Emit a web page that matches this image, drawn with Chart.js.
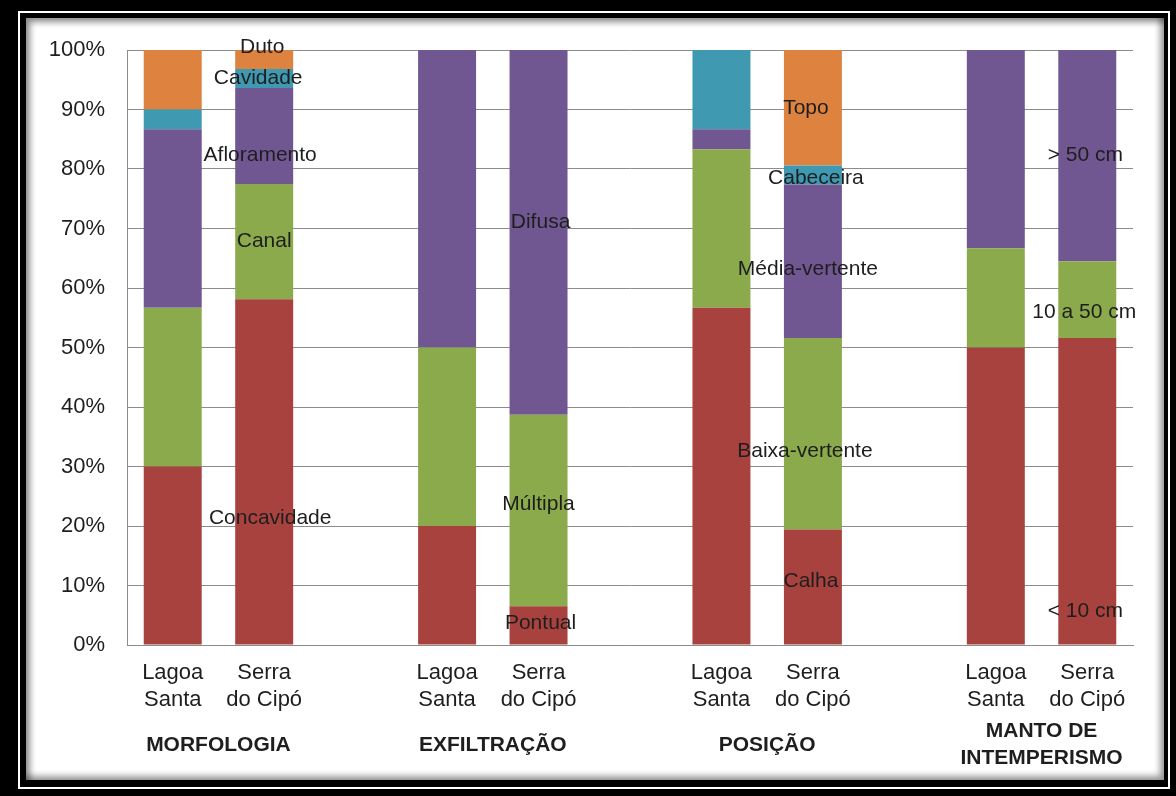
<!DOCTYPE html>
<html>
<head>
<meta charset="utf-8">
<script src="https://cdn.jsdelivr.net/npm/chart.js@4/dist/chart.umd.min.js"></script>
<style>
  html, body { margin: 0; padding: 0; }
  body { width: 1176px; height: 796px; background: #000; position: relative; overflow: hidden; }
  #outer {
    position: absolute; left: 18px; top: 11px; width: 1152px; height: 778px;
    box-sizing: border-box; border: 2px solid #fff;
  }
  #inner {
    position: absolute; left: 0; top: 0; right: 0; bottom: 0;
    border-style: solid; border-color: #000; border-width: 5px 4px 7px 6px;
    background: #fff;
    box-shadow: inset 4px 4px 6px rgba(0,0,0,0.45), inset -4px -4px 6px rgba(0,0,0,0.4);
  }
  #wrap { position: absolute; left: 0; top: 0; width: 1137px; height: 761px; }
</style>
</head>
<body>
<div id="outer"><div id="inner"><div id="wrap"><canvas id="chart"></canvas></div></div></div>
<script>
// Share of each class per site, in percent (bottom segment first)
const sites = [['Lagoa', 'Santa'], ['Serra', 'do Cipó']];
const groupTitles = ['MORFOLOGIA', 'EXFILTRAÇÃO', 'POSIÇÃO', ['MANTO DE', 'INTEMPERISMO']];

const morfologiaClasses = ['Concavidade', 'Canal', 'Afloramento', 'Cavidade', 'Duto'];
const morfologiaLagoa = [30.0, 26.7, 30.0, 3.3, 10.0];
const morfologiaCipo = [58.1, 19.4, 16.1, 3.2, 3.2];

const exfiltracaoClasses = ['Pontual', 'Múltipla', 'Difusa'];
const exfiltracaoLagoa = [20.0, 30.0, 50.0];
const exfiltracaoCipo = [6.5, 32.2, 61.3];

const posicaoClasses = ['Calha', 'Baixa-vertente', 'Média-vertente', 'Cabeceira', 'Topo'];
const posicaoLagoa = [56.7, 26.6, 3.4, 13.3, 0];
const posicaoCipo = [19.4, 32.2, 25.8, 3.2, 19.4];

const mantoClasses = ['< 10 cm', '10 a 50 cm', '> 50 cm'];
const mantoLagoa = [50.0, 16.7, 33.3];
const mantoCipo = [51.6, 12.9, 35.5];

const yTicks = [0, 10, 20, 30, 40, 50, 60, 70, 80, 90, 100];

const groups = [
  { classes: morfologiaClasses, values: [morfologiaLagoa, morfologiaCipo] },
  { classes: exfiltracaoClasses, values: [exfiltracaoLagoa, exfiltracaoCipo] },
  { classes: posicaoClasses, values: [posicaoLagoa, posicaoCipo] },
  { classes: mantoClasses, values: [mantoLagoa, mantoCipo] }
];

const levelColors = ['#A8423F', '#8BAA4B', '#715792', '#3F99B1', '#DE8240'];
const FONT = '"Liberation Sans", Arial, sans-serif';
const TEXT = '#1e1e1e';
const GRID = '#8c8c8c';

// Build category slots: two bars per group, an empty slot between groups
const labels = [];
const groupStart = [];
groups.forEach((g, gi) => {
  if (gi > 0) labels.push('');
  groupStart.push(labels.length);
  labels.push(sites[0], sites[1]);
});

const datasets = levelColors.map((color, level) => {
  const data = labels.map(() => null);
  groups.forEach((g, gi) => {
    g.values.forEach((vals, si) => {
      data[groupStart[gi] + si] = vals[level] !== undefined ? vals[level] : 0;
    });
  });
  return {
    data: data,
    backgroundColor: color,
    borderWidth: 0,
    categoryPercentage: 1,
    barPercentage: 0.634
  };
});

// hand-placed label tweaks (pixels)
const labelNudge = {
  'Concavidade': [6, 46], 'Afloramento': [-4, 19], 'Duto': [-2, -12], 'Cavidade': [-6, 0],
  'Difusa': [2, -10], 'Múltipla': [0, -6], 'Pontual': [2, -2],
  'Topo': [-7, 0], 'Cabeceira': [3, 3], 'Média-vertente': [-5, 8], 'Baixa-vertente': [-8, 17], 'Calha': [-2, -6],
  '< 10 cm': [-2, 120], '10 a 50 cm': [-3, 13], '> 50 cm': [-2, 0]
};

const segmentLabels = {
  id: 'segmentLabels',
  afterDatasetsDraw(chart) {
    const { ctx, scales: { x, y } } = chart;
    ctx.save();
    ctx.font = '21px ' + FONT;
    ctx.fillStyle = TEXT;
    ctx.textAlign = 'center';
    ctx.textBaseline = 'middle';
    groups.forEach((g, gi) => {
      const idx = groupStart[gi] + 1;
      const vals = g.values[1];
      let cum = 0;
      g.classes.forEach((name, level) => {
        const v = vals[level];
        const mid = cum + v / 2;
        cum += v;
        const n = labelNudge[name] || [0, 0];
        ctx.fillText(name, x.getPixelForValue(idx) + n[0], y.getPixelForValue(mid) + n[1]);
      });
    });
    ctx.restore();
  }
};

const groupNames = {
  id: 'groupNames',
  afterDraw(chart) {
    const { ctx, scales: { x } } = chart;
    ctx.save();
    ctx.font = 'bold 21px ' + FONT;
    ctx.fillStyle = TEXT;
    ctx.textAlign = 'center';
    ctx.textBaseline = 'middle';
    groupTitles.forEach((t, gi) => {
      const cx = (x.getPixelForValue(groupStart[gi]) + x.getPixelForValue(groupStart[gi] + 1)) / 2;
      const lines = Array.isArray(t) ? t : [t];
      const base = x.top + 100 - (lines.length - 1) * 13.5;
      lines.forEach((line, li) => ctx.fillText(line, cx, base + li * 27));
    });
    ctx.restore();
  }
};

new Chart(document.getElementById('chart'), {
  type: 'bar',
  data: { labels: labels, datasets: datasets },
  options: {
    responsive: true,
    maintainAspectRatio: false,
    animation: false,
    layout: { padding: { top: 32, right: 30, left: 0, bottom: 0 } },
    plugins: { legend: { display: false }, tooltip: { enabled: false } },
    scales: {
      x: {
        stacked: true,
        grid: { display: false, drawTicks: false },
        border: { color: GRID, width: 1 },
        ticks: {
          autoSkip: false, maxRotation: 0, padding: 14,
          color: TEXT, font: { family: FONT, size: 22, lineHeight: 1.23 }
        },
        afterFit(scale) { scale.height = 134; scale.paddingLeft = 0; scale.paddingRight = 0; }
      },
      y: {
        stacked: true,
        min: 0,
        max: 100,
        afterBuildTicks(scale) { scale.ticks = yTicks.map(v => ({ value: v })); },
        grid: { color: GRID, drawTicks: false },
        border: { color: GRID, width: 1 },
        ticks: {
          padding: 22, color: TEXT,
          font: { family: FONT, size: 22 },
          callback: v => v + '%'
        },
        afterFit(scale) { scale.width = 101; scale.paddingTop = 0; scale.paddingBottom = 0; }
      }
    }
  },
  plugins: [segmentLabels, groupNames]
});
</script>
</body>
</html>
